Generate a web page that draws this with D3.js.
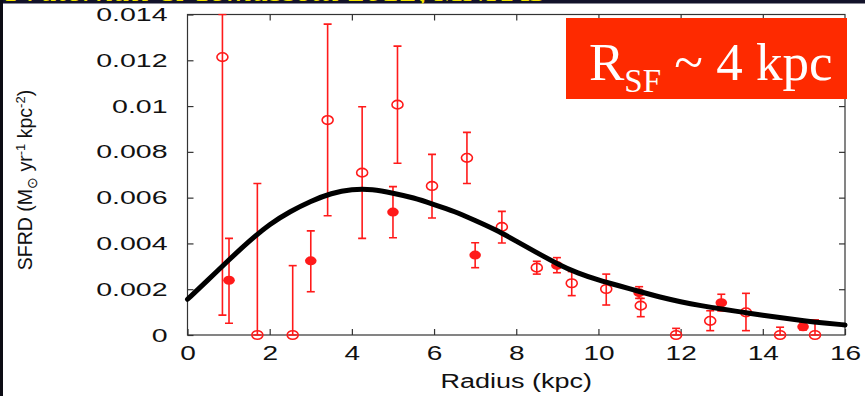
<!DOCTYPE html>
<html>
<head>
<meta charset="utf-8">
<script src="https://cdn.jsdelivr.net/npm/d3@7"></script>
<style>
  body { margin: 0; background: #ffffff; }
  svg { display: block; }
</style>
</head>
<body>
<div id="chartArea"></div>
<script>
// open circles (radius kpc, SFRD, lower, upper)
var openR    = [0.85, 1.70, 2.56, 3.41, 4.25, 5.11, 5.95, 6.80, 7.65, 8.50, 9.35, 10.19, 11.03, 11.89, 12.72, 13.59, 14.42, 15.27];
var openVal  = [0.01214, 0, 0, 0.00939, 0.00709, 0.01006, 0.00651, 0.00774, 0.00472, 0.00294, 0.00226, 0.00201, 0.00128, 0, 0.00062, 0.00099, 0, 0];
var openLow  = [0.00087, 0, 0, 0.00521, 0.00422, 0.0075, 0.00511, 0.00662, 0.00402, 0.00266, 0.00172, 0.00131, 0.0008, 0, 0.00019, 0.00019, 0, 0];
var openHigh = [0.014, 0.00662, 0.00303, 0.01358, 0.00997, 0.01262, 0.00789, 0.00885, 0.0054, 0.00322, 0.00277, 0.00266, 0.0016, 0.00029, 0.00106, 0.00182, 0.00034, 0.00066];

// filled circles
var fillR    = [1.01, 3.0, 5.0, 7.0, 8.99, 10.99, 12.99, 14.98];
var fillVal  = [0.00239, 0.00324, 0.00537, 0.00349, 0.00304, 0.00185, 0.00141, 0.00036];
var fillLow  = [0.00051, 0.00189, 0.00425, 0.00294, 0.00272, 0.00160, 0.00105, 0.00022];
var fillHigh = [0.00422, 0.00455, 0.00648, 0.00403, 0.00338, 0.00211, 0.00178, 0.00054];

// fitted profile
var curveR   = [0, 0.5, 1, 1.5, 2, 2.5, 3, 3.5, 4, 4.5, 5, 5.5, 6, 6.5, 7, 7.5, 8, 8.5, 9, 9.5, 10, 10.5, 11, 11.5, 12, 12.5, 13, 13.5, 14, 14.5, 15, 15.5, 16];
var curveVal = [0.00156, 0.0024, 0.00327, 0.0041, 0.00485, 0.0054, 0.00585, 0.0062, 0.00637, 0.00637, 0.0062, 0.0060, 0.0057, 0.0054, 0.0050, 0.0046, 0.0041, 0.0036, 0.0031, 0.0027, 0.0024, 0.00215, 0.0019, 0.00165, 0.00145, 0.00128, 0.00113, 0.001, 0.00086, 0.00074, 0.00062, 0.00052, 0.00044];

var xTicks = [0, 2, 4, 6, 8, 10, 12, 14, 16];
var yTicks = [0, 0.002, 0.004, 0.006, 0.008, 0.01, 0.012, 0.014];

var width = 865, height = 396;
var plotLeft = 187.5, plotRight = 845, plotTop = 14.5, plotBottom = 335;
var red = "#ff1a1a";

var svg = d3.select("#chartArea").append("svg")
    .attr("width", width)
    .attr("height", height);

svg.append("rect").attr("width", width).attr("height", height).style("fill", "#ffffff");

var x = d3.scaleLinear().domain([0, 16]).range([plotLeft, plotRight]);
var y = d3.scaleLinear().domain([0, 0.014]).range([plotBottom, plotTop]);

// stretch a text to a given factor of its natural width
function stretch(sel, f) {
  sel.each(function () {
    var w = this.getComputedTextLength();
    d3.select(this).attr("textLength", w * f).attr("lengthAdjust", "spacingAndGlyphs");
  });
}

// axes, ticks pointing inward on all four sides
var axisStyle = function (g) {
  g.select(".domain").remove();
  g.selectAll(".tick line").style("stroke", "#333").style("stroke-width", "1.2px");
};

svg.append("g").attr("transform", "translate(0," + plotBottom + ")")
    .call(d3.axisBottom(x).tickValues(xTicks).tickSize(-6).tickPadding(11).tickFormat(function (d) { return d; }))
    .call(axisStyle)
    .selectAll("text")
    .style("font-family", "Liberation Sans, Arial, sans-serif")
    .style("font-size", "20px")
    .style("fill", "#111")
    .call(stretch, 1.4);

svg.append("g").attr("transform", "translate(0," + plotTop + ")")
    .call(d3.axisTop(x).tickValues(xTicks.slice(1, -1)).tickSize(-6).tickFormat(""))
    .call(axisStyle);

svg.append("g").attr("transform", "translate(" + plotLeft + ",0)")
    .call(d3.axisLeft(y).tickValues(yTicks).tickSize(-6).tickPadding(20).tickFormat(function (d) { return d; }))
    .call(axisStyle)
    .selectAll("text")
    .style("font-family", "Liberation Sans, Arial, sans-serif")
    .style("font-size", "19px")
    .style("fill", "#111")
    .call(stretch, 1.5);

svg.append("g").attr("transform", "translate(" + plotRight + ",0)")
    .call(d3.axisRight(y).tickValues(yTicks.slice(1, -1)).tickSize(-6).tickFormat(""))
    .call(axisStyle);

svg.append("rect")
    .attr("x", plotLeft).attr("y", plotTop)
    .attr("width", plotRight - plotLeft).attr("height", plotBottom - plotTop)
    .style("fill", "none").style("stroke", "#333").style("stroke-width", "1.2px");

// axis titles
svg.append("text")
    .attr("x", (plotLeft + plotRight) / 2).attr("y", 388)
    .attr("text-anchor", "middle")
    .style("font-family", "Liberation Sans, Arial, sans-serif")
    .style("font-size", "20px")
    .style("fill", "#111")
    .text("Radius (kpc)")
    .call(stretch, 1.35);

var yLab = svg.append("text")
    .attr("transform", "translate(32,180) rotate(-90)")
    .attr("text-anchor", "middle")
    .style("font-family", "Liberation Sans, Arial, sans-serif")
    .style("font-size", "19.5px")
    .style("fill", "#111");
yLab.append("tspan").text("SFRD (M");
yLab.append("tspan").attr("dy", 5).style("font-size", "14px").text("\u2299");
yLab.append("tspan").attr("dy", -5).text(" yr");
yLab.append("tspan").attr("dy", -7).style("font-size", "13px").text("-1");
yLab.append("tspan").attr("dy", 7).text(" kpc");
yLab.append("tspan").attr("dy", -7).style("font-size", "13px").text("-2");
yLab.append("tspan").attr("dy", 7).text(")");

// clip marks to the frame
svg.append("clipPath").attr("id", "plotClip")
  .append("rect").attr("x", plotLeft).attr("y", plotTop - 1).attr("width", plotRight - plotLeft).attr("height", plotBottom - plotTop + 8);

var plot = svg.append("g").attr("clip-path", "url(#plotClip)");

function drawBars(rs, lows, highs) {
  var g = plot.append("g").selectAll("g").data(rs).enter().append("g");
  g.append("line")
    .attr("x1", function (d) { return x(d); }).attr("x2", function (d) { return x(d); })
    .attr("y1", function (d, i) { return y(lows[i]); })
    .attr("y2", function (d, i) { return y(highs[i]); });
  g.append("line")
    .attr("x1", function (d) { return x(d) - 4; }).attr("x2", function (d) { return x(d) + 4; })
    .attr("y1", function (d, i) { return y(highs[i]); })
    .attr("y2", function (d, i) { return y(highs[i]); });
  g.append("line")
    .attr("x1", function (d) { return x(d) - 4; }).attr("x2", function (d) { return x(d) + 4; })
    .attr("y1", function (d, i) { return y(lows[i]); })
    .attr("y2", function (d, i) { return y(lows[i]); });
  g.selectAll("line").style("stroke", red).style("stroke-width", "1.6px");
}

drawBars(openR, openLow, openHigh);
drawBars(fillR, fillLow, fillHigh);

plot.append("g").selectAll("ellipse").data(openR).enter().append("ellipse")
    .attr("cx", function (d) { return x(d); })
    .attr("cy", function (d, i) { return y(openVal[i]); })
    .attr("rx", 5.5).attr("ry", 4.3)
    .style("fill", "none").style("stroke", red).style("stroke-width", "1.6px");

plot.append("g").selectAll("ellipse").data(fillR).enter().append("ellipse")
    .attr("cx", function (d) { return x(d); })
    .attr("cy", function (d, i) { return y(fillVal[i]); })
    .attr("rx", 5.8).attr("ry", 4.5)
    .style("fill", red);

// fitted curve
var line = d3.line()
    .x(function (d) { return x(d); })
    .y(function (d, i) { return y(curveVal[i]); })
    .curve(d3.curveBasis);

svg.append("path")
    .datum(curveR)
    .attr("d", line)
    .style("fill", "none")
    .style("stroke", "#000")
    .style("stroke-width", "5px")
    .style("stroke-linecap", "round");

// red label box
svg.append("rect")
    .attr("x", 566).attr("y", 18).attr("width", 281).attr("height", 81)
    .style("fill", "#fe2a00");

var rsf = svg.append("text")
    .attr("x", 589).attr("y", 80)
    .style("font-family", "Liberation Serif, Times New Roman, serif")
    .style("font-size", "53px")
    .style("fill", "#ffffff");
rsf.append("tspan").text("R");
rsf.append("tspan").attr("dy", 12).style("font-size", "33px").text("SF");
rsf.append("tspan").attr("dy", -12).text(" ~ 4 kpc");

// slide frame: dark strip with cut-off citation, dark left edge
svg.append("clipPath").attr("id", "stripClip")
  .append("rect").attr("x", 0).attr("y", 0).attr("width", width).attr("height", 3.5);
svg.append("rect").attr("x", 0).attr("y", 0).attr("width", width).attr("height", 3.5).style("fill", "#12122a");
svg.append("text")
    .attr("x", 6).attr("y", 1)
    .attr("clip-path", "url(#stripClip)")
    .style("font-family", "Liberation Serif, serif")
    .style("font-style", "italic")
    .style("font-size", "30px")
    .style("fill", "#f5e400")
    .text("Fraternali & Tomassetti 2012, MNRAS")
    .call(stretch, 1.15);
svg.append("rect").attr("x", 0).attr("y", 0).attr("width", 3).attr("height", height).style("fill", "#0c0c14");
</script>
</body>
</html>
